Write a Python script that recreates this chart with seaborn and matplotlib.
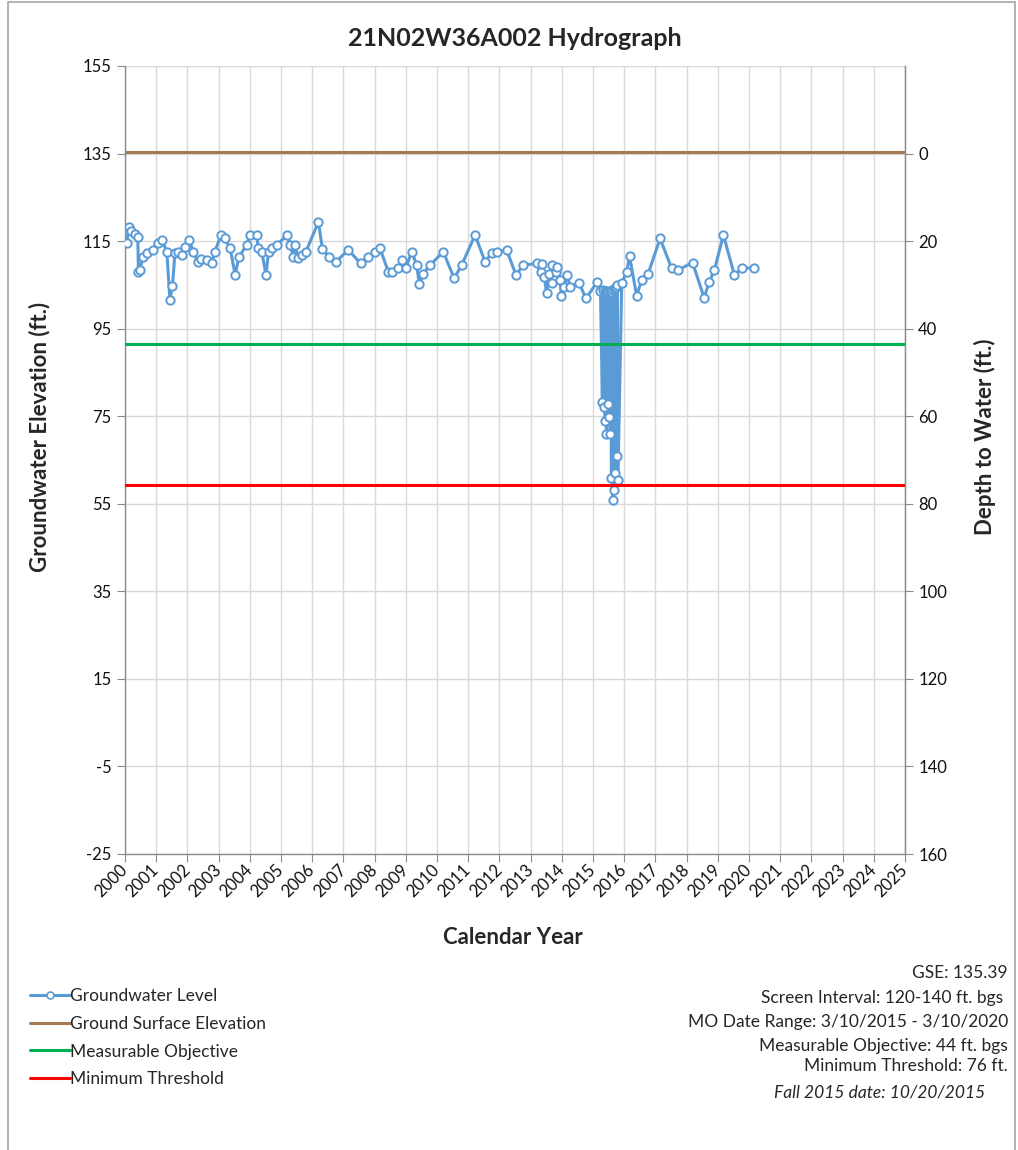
import pandas as pd
import matplotlib.pyplot as plt
import seaborn as sns
from matplotlib.lines import Line2D
from matplotlib.patches import Rectangle

# Groundwater level readings (decimal year, elevation ft.)
years = [
    2000.05, 2000.13, 2000.19, 2000.32, 2000.41, 2000.43, 2000.47, 2000.59, 2000.70, 2000.91,
    2001.05, 2001.18, 2001.34, 2001.44, 2001.52, 2001.60, 2001.70, 2001.82, 2001.92,
    2002.05, 2002.19, 2002.33, 2002.45, 2002.62, 2002.78, 2002.88,
    2003.08, 2003.20, 2003.37, 2003.53, 2003.65, 2003.90,
    2004.00, 2004.22, 2004.27, 2004.38, 2004.52, 2004.60, 2004.70, 2004.86,
    2005.20, 2005.29, 2005.40, 2005.45, 2005.55, 2005.66, 2005.80,
    2006.20, 2006.33, 2006.55, 2006.76, 2007.16, 2007.55, 2007.78,
    2008.01, 2008.17, 2008.44, 2008.55, 2008.76, 2008.89,
    2009.00, 2009.19, 2009.35, 2009.43, 2009.56, 2009.78,
    2010.20, 2010.55, 2010.79, 2011.22, 2011.54, 2011.75, 2011.91,
    2012.23, 2012.53, 2012.77, 2013.19, 2013.32, 2013.38, 2013.44, 2013.51, 2013.60,
    2013.67, 2013.70, 2013.80, 2013.86, 2013.94, 2013.99,
    2014.07, 2014.18, 2014.26, 2014.56, 2014.77, 2015.14, 2015.24,
    2015.30, 2015.32, 2015.345, 2015.37, 2015.39, 2015.41, 2015.43, 2015.45,
    2015.47, 2015.49, 2015.51, 2015.53, 2015.55, 2015.57, 2015.59, 2015.61,
    2015.64, 2015.66, 2015.68, 2015.70, 2015.72, 2015.74, 2015.76, 2015.78, 2015.80,
    2015.92, 2016.08, 2016.17, 2016.40, 2016.56, 2016.77,
    2017.15, 2017.52, 2017.73, 2018.19, 2018.56, 2018.73, 2018.89,
    2019.18, 2019.53, 2019.77, 2020.16,
]
elevation = [
    114.5, 118.3, 117.2, 116.6, 116.0, 108.0, 108.5, 111.4, 112.2, 113.0,
    114.5, 115.3, 112.6, 101.6, 104.7, 112.2, 112.6, 111.8, 113.7,
    115.3, 112.6, 110.3, 111.0, 110.7, 109.9, 112.6,
    116.4, 115.6, 113.4, 107.3, 111.4, 114.1,
    116.4, 116.4, 113.4, 112.6, 107.3, 112.6, 113.4, 114.1,
    116.4, 114.1, 111.4, 114.0, 111.1, 111.8, 112.6,
    119.4, 113.1, 111.4, 110.3, 113.0, 109.9, 111.4,
    112.6, 113.4, 108.0, 107.9, 108.8, 110.7,
    108.8, 112.6, 109.5, 105.2, 107.6, 109.5,
    112.6, 106.5, 109.5, 116.4, 110.3, 112.2, 112.6,
    113.0, 107.3, 109.5, 109.9, 108.0, 109.7, 106.9, 103.1, 107.6,
    105.4, 109.5, 108.0, 109.2, 106.1, 102.5,
    104.6, 107.3, 104.6, 105.4, 101.9, 105.7, 103.7,
    78.3, 103.8, 77.2, 103.7, 73.8, 103.6, 70.9, 103.5,
    77.9, 103.4, 74.9, 103.3, 70.9, 103.4, 60.8, 103.8,
    55.9, 104.0, 58.2, 104.3, 62.0, 104.6, 65.8, 105.0, 60.5,
    105.4, 108.0, 111.6, 102.5, 106.1, 107.6,
    115.6, 108.8, 108.4, 110.1, 102.1, 105.7, 108.4,
    116.4, 107.3, 108.8, 108.9,
]

gse = 135.39
mo_depth = 44
mt_depth = 76

legend_labels = ["Groundwater Level", "Ground Surface Elevation",
                 "Measurable Objective", "Minimum Threshold"]
info_lines = ["GSE: 135.39", "Screen Interval: 120-140 ft. bgs ",
              "MO Date Range: 3/10/2015 - 3/10/2020",
              "Measurable Objective: 44 ft. bgs", "Minimum Threshold: 76 ft."]

blue = "#5B9BD5"
brown = "#A47A55"
green = "#00B050"
red = "#FF0000"

sns.set_style("ticks")
plt.rcParams["font.family"] = ["Lato", "DejaVu Sans"]
plt.rcParams["axes.unicode_minus"] = False

df = pd.DataFrame({"Year": years, "Elevation": elevation})

fig = plt.figure(figsize=(10.18, 11.5), dpi=100)
ax = fig.add_axes([125 / 1018, 1 - 854 / 1150, 780 / 1018, 788 / 1150])

sns.lineplot(data=df, x="Year", y="Elevation", ax=ax, sort=False, color=blue,
             lw=2.2, marker="o", markersize=6, markerfacecolor="white",
             markeredgecolor=blue, markeredgewidth=1.4, zorder=3)
ax.axhline(gse, color=brown, lw=2.2, zorder=4)
ax.axhline(gse - mo_depth, color=green, lw=2.2, zorder=4)
ax.axhline(gse - mt_depth, color=red, lw=2.2, zorder=4)

ax.set_xlim(2000, 2025)
ax.set_ylim(-25, 155)
ax.set_xticks(range(2000, 2026))
ax.set_yticks(range(-25, 156, 20))
ax.grid(True, color="#d9d9d9", lw=1.0)
ax.set_axisbelow(True)
ax.set_xlabel("")
ax.set_ylabel("")
ax.spines["top"].set_visible(False)
for s in ["left", "bottom", "right"]:
    ax.spines[s].set_color("#8c8c8c")
    ax.spines[s].set_linewidth(1.0)
ax.tick_params(axis="both", color="#8c8c8c", length=6, labelsize=12, labelcolor="#111111")
ax.set_xticklabels([str(y) for y in range(2000, 2026)], rotation=45, ha="right",
                   va="center", rotation_mode="anchor")

ax2 = ax.twinx()
ax2.set_ylim(135 + 25, 135 - 155)
ax2.set_yticks(range(0, 161, 20))
for s in ["left", "top", "bottom"]:
    ax2.spines[s].set_visible(False)
ax2.spines["right"].set_color("#8c8c8c")
ax2.tick_params(axis="y", color="#8c8c8c", length=6, labelsize=12, labelcolor="#111111")

fig.text(515 / 1018, 1 - 38 / 1150, "21N02W36A002 Hydrograph", ha="center", va="center",
         fontsize=18, fontweight="bold")
fig.text(40 / 1018, 1 - 437 / 1150, "Groundwater Elevation (ft.)", rotation=90,
         ha="center", va="center", fontsize=16, fontweight="bold")
fig.text(985 / 1018, 1 - 437 / 1150, "Depth to Water (ft.)", rotation=90,
         ha="center", va="center", fontsize=16, fontweight="bold")
fig.text(513 / 1018, 1 - 937 / 1150, "Calendar Year", ha="center", va="center",
         fontsize=16, fontweight="bold")

handles = [
    Line2D([], [], color=blue, lw=2.2, marker="o", markersize=5, markerfacecolor="white",
           markeredgecolor=blue, markeredgewidth=1.2),
    Line2D([], [], color=brown, lw=2.2),
    Line2D([], [], color=green, lw=2.2),
    Line2D([], [], color=red, lw=2.2),
]
fig.legend(handles, legend_labels, loc="upper left", bbox_to_anchor=(23 / 1018, 1 - 981 / 1150),
           frameon=False, fontsize=12.5, handlelength=2.3, handletextpad=0.0,
           labelspacing=0.68, borderaxespad=0)

ys = [973, 998, 1022, 1046, 1066]
for txt, y in zip(info_lines, ys):
    fig.text(1008 / 1018, 1 - y / 1150, txt, ha="right", va="center", fontsize=12.5)
fig.text(985 / 1018, 1 - 1093 / 1150, "Fall 2015 date: 10/20/2015", ha="right",
         va="center", fontsize=12.5, fontstyle="italic")

fig.patches.append(Rectangle((8 / 1018, -0.01), 1007 / 1018, 1.008, transform=fig.transFigure,
                             fill=False, edgecolor="#a6a6a6", lw=1.2))

fig.savefig("out.png", dpi=100)
